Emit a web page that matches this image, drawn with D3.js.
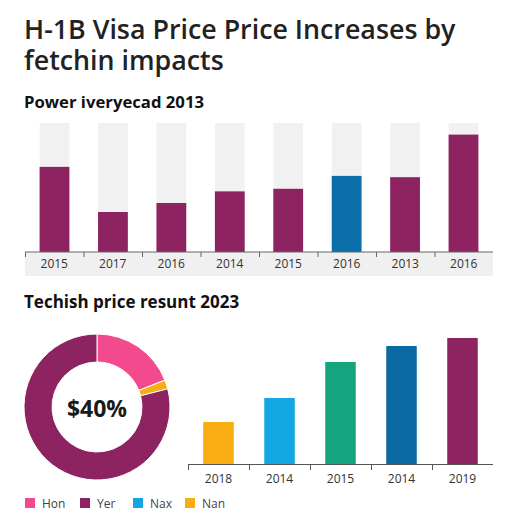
<!DOCTYPE html>
<html>
<head>
<meta charset="utf-8">
<script src="https://cdn.jsdelivr.net/npm/d3@7"></script>
<style>
  body { margin: 0; background: #fff; }
  svg { display: block; font-family: "Open Sans", "Noto Sans", sans-serif; }
</style>
</head>
<body>
<div id="chart"></div>
<script>
// top bar chart
const topYears = ["2015", "2017", "2016", "2014", "2015", "2016", "2013", "2016"];
const topValues = [66, 31, 38, 47, 49, 59, 58, 91];
const topHighlight = [false, false, false, false, false, true, false, false];

// donut
const donutNames = ["Hon", "Nan", "Yer"];
const donutValues = [19, 2, 79];
const centerLabel = "$40%";

// bottom bar chart
const bottomYears = ["2018", "2014", "2015", "2014", "2019"];
const bottomValues = [42, 66, 102, 118, 126];

// legend
const legendNames = ["Hon", "Yer", "Nax", "Nan"];

const colors = {
  Hon: "#f24a8c",
  Yer: "#8d2360",
  Nax: "#12a6e3",
  Nan: "#f8ad12"
};
const bottomColors = ["#f8ad12", "#12a6e3", "#14a57e", "#0b6aa3", "#8d2360"];

(function() {
  const width = 512, height = 512;
  const svg = d3.select("#chart").append("svg")
    .attr("width", width)
    .attr("height", height);

  // titles
  svg.append("text")
    .attr("x", 24).attr("y", 39)
    .attr("fill", "#222")
    .attr("font-size", "26.8px")
    .attr("font-weight", 600)
    .text("H-1B Visa Price Price Increases by");
  svg.append("text")
    .attr("x", 24).attr("y", 70)
    .attr("fill", "#222")
    .attr("font-size", "26.8px")
    .attr("font-weight", 600)
    .text("fetchin impacts");

  svg.append("text")
    .attr("x", 24).attr("y", 108)
    .attr("fill", "#111")
    .attr("font-size", "16.7px")
    .attr("font-weight", 700)
    .text("Power iveryecad 2013");

  // ---- top bars
  const x1 = d3.scaleBand()
    .domain(d3.range(topValues.length))
    .range([25, 493])
    .paddingInner(0.49)
    .paddingOuter(0.25);
  const y1 = d3.scaleLinear().domain([0, 100]).range([252, 123]);

  // label band
  svg.append("rect")
    .attr("x", 25).attr("y", 252)
    .attr("width", 468).attr("height", 24)
    .attr("fill", "#f0f0f0");

  svg.selectAll(".bg-bar")
    .data(topValues)
    .enter().append("rect")
    .attr("x", (d, i) => x1(i))
    .attr("y", y1(100))
    .attr("width", x1.bandwidth())
    .attr("height", y1(0) - y1(100))
    .attr("fill", "#f1f1f1");

  svg.selectAll(".top-bar")
    .data(topValues)
    .enter().append("rect")
    .attr("x", (d, i) => x1(i))
    .attr("y", d => y1(d))
    .attr("width", x1.bandwidth())
    .attr("height", d => y1(0) - y1(d))
    .attr("fill", (d, i) => topHighlight[i] ? "#0a6ea8" : colors.Yer);

  const step1 = 468 / topValues.length;
  svg.append("line")
    .attr("x1", 25).attr("x2", 493)
    .attr("y1", 252).attr("y2", 252)
    .attr("stroke", "#666").attr("stroke-width", 1);
  svg.selectAll(".tick1")
    .data(d3.range(topValues.length))
    .enter().append("line")
    .attr("x1", i => 25.5 + i * step1).attr("x2", i => 25.5 + i * step1)
    .attr("y1", 252).attr("y2", 257)
    .attr("stroke", "#666");
  svg.selectAll(".lab1")
    .data(topYears)
    .enter().append("text")
    .attr("x", (d, i) => 25 + (i + 0.5) * step1)
    .attr("y", 268)
    .attr("text-anchor", "middle")
    .attr("font-size", "12px")
    .attr("fill", "#333")
    .text(d => d);

  // ---- second section
  svg.append("text")
    .attr("x", 24).attr("y", 308)
    .attr("fill", "#111")
    .attr("font-size", "17px")
    .attr("font-weight", 700)
    .text("Techish price resunt 2023");

  // donut
  const donut = svg.append("g").attr("transform", "translate(97,407)");
  const pie = d3.pie().sort(null).value(d => d);
  const arc = d3.arc().innerRadius(45).outerRadius(73);
  donut.selectAll("path")
    .data(pie(donutValues))
    .enter().append("path")
    .attr("d", arc)
    .attr("fill", (d, i) => colors[donutNames[i]])
    .attr("stroke", "#fff")
    .attr("stroke-width", 1);
  donut.append("text")
    .attr("text-anchor", "middle")
    .attr("y", 10)
    .attr("font-size", "23px")
    .attr("font-weight", 700)
    .attr("fill", "#1a1a1a")
    .text(centerLabel);

  // bottom bars
  const x2 = d3.scaleBand()
    .domain(d3.range(bottomValues.length))
    .range([188, 493])
    .paddingInner(0.5)
    .paddingOuter(0.25);
  const y2 = d3.scaleLinear().domain([0, 130]).range([464, 334]);

  svg.selectAll(".bot-bar")
    .data(bottomValues)
    .enter().append("rect")
    .attr("x", (d, i) => x2(i))
    .attr("y", d => y2(d))
    .attr("width", x2.bandwidth())
    .attr("height", d => y2(0) - y2(d))
    .attr("fill", (d, i) => bottomColors[i]);

  const step2 = 305 / bottomValues.length;
  svg.append("line")
    .attr("x1", 188).attr("x2", 493)
    .attr("y1", 464.5).attr("y2", 464.5)
    .attr("stroke", "#555");
  svg.selectAll(".tick2")
    .data(d3.range(bottomValues.length))
    .enter().append("line")
    .attr("x1", i => 188.5 + i * step2).attr("x2", i => 188.5 + i * step2)
    .attr("y1", 464).attr("y2", 470)
    .attr("stroke", "#555");
  svg.selectAll(".lab2")
    .data(bottomYears)
    .enter().append("text")
    .attr("x", (d, i) => 188 + (i + 0.5) * step2)
    .attr("y", 483)
    .attr("text-anchor", "middle")
    .attr("font-size", "12px")
    .attr("fill", "#333")
    .text(d => d);

  // legend
  const legendX = [25, 80, 133, 185];
  const legend = svg.selectAll(".legend")
    .data(legendNames)
    .enter().append("g")
    .attr("transform", (d, i) => `translate(${legendX[i]},498)`);
  legend.append("rect")
    .attr("width", 10).attr("height", 10)
    .attr("fill", d => colors[d]);
  legend.append("text")
    .attr("x", 17).attr("y", 10)
    .attr("font-size", "12px")
    .attr("fill", "#444")
    .text(d => d);
})();
</script>
</body>
</html>
